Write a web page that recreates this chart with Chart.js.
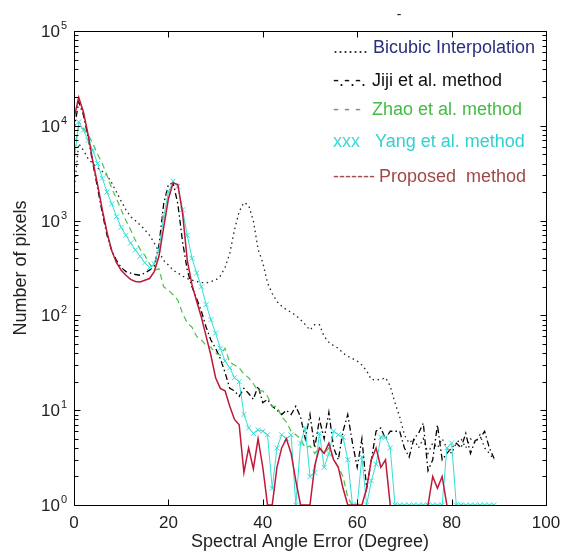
<!DOCTYPE html>
<html>
<head>
<meta charset="utf-8">
<script src="https://cdn.jsdelivr.net/npm/chart.js@4.4.1/dist/chart.umd.min.js"></script>
<style>
body { margin: 0; background: #fff; }
</style>
</head>
<body>
<canvas id="myChart" width="563" height="557"></canvas>
<script>
// spectral angle (degree)
var angles = [0, 1, 2, 3, 4, 5, 6, 7, 8, 9, 10, 11, 12, 13, 14, 15, 16, 17, 18, 19,
    20, 21, 22, 23, 24, 25, 26, 27, 28, 29, 30, 31, 32, 33, 34, 35, 36, 37, 38, 39,
    40, 41, 42, 43, 44, 45, 46, 47, 48, 49, 50, 51, 52, 53, 54, 55, 56, 57, 58, 59,
    60, 61, 62, 63, 64, 65, 66, 67, 68, 69, 70, 71, 72, 73, 74, 75, 76, 77, 78, 79,
    80, 81, 82, 83, 84, 85, 86, 87, 88, 89, 90]

var bicubic = [2000, 6500, 5500, 4500, 4000, 3600, 3300, 3000, 2500, 2000,
    1600, 1300, 1100, 1000, 900, 800, 700, 580, 470, 380,
    340, 300, 280, 260, 245, 235, 228, 222, 220, 228,
    235, 260, 320, 450, 800, 1250, 1550, 1450, 1000, 500,
    360, 220, 170, 140, 125, 115, 108, 100, 90, 80,
    70, 80, 80, 60, 52, 48, 45, 40, 37, 35,
    33, 30, 26, 21, 21, 21, 22, 18, 12, 8.5,
    5.5, 4.5, 5, 4, 5, 3.5, 4.5, 4, 5, 4,
    3.5, 4.5, 5, 4, 5, 4.5, 5.5, 4, 3.5, 3, null]

var jiji = [9000, 18000, 13000, 7500, 4000, 2200, 1200, 700, 480, 380,
    320, 290, 280, 270, 265, 280, 300, 330, 550, 1500,
    2400, 2500, 1500, 600, 300, 200, 150, 110, 75, 55,
    45, 35, 25, 17, 16, 14, 17, 15, 13, 18,
    12, 13, 11, 10, 9, 10, 9, 11, 8.5, 5,
    9, 4, 8, 5, 9.5, 4, 3, 6, 9, 4.5,
    2.5, 5, 1.5, 3, 6, 6.5, 5, 6, 6, 6,
    4, 3.2, 5, 5.7, 7.3, 2.3, 3, 7, 3, 3.5,
    4, 4.5, 4, 5.7, 3.5, 4.8, 5, 6, 4, 3.1, null]

var zhao = [5500, 10000, 9500, 8000, 6500, 5000, 4000, 3000, 2200, 1700,
    1300, 1000, 800, 620, 500, 430, 350, 300, 310, 200,
    185, 165, 145, 105, 83, 75, 60, 55, 48, 46,
    40, 38, 45, 32, 30, 28, 24, 22, 19, 16,
    16, 14, 11, 11, 8.5, 7.5, 6, 5.5, 5, 4,
    4.2, 3.5, 4, 3.5, 4, 3, 2.5, 2, 1.2, 1,
    null, null, null, null, null, null, null, null, null, null,
    null, null, null, null, null, null, null, null, null, null,
    null, null, null, null, null, null, null, null, null, null, null]

var yang = [4000, 11000, 9000, 7000, 5500, 4000, 2800, 2000, 1500, 1100,
    850, 700, 580, 490, 420, 360, 320, 350, 500, 1100,
    2000, 2600, 2300, 1300, 700, 400, 280, 200, 130, 90,
    65, 45, 33, 28, 22, 20, 9, 6.5, 5.7, 6.2,
    6, 5.5, 1.5, 4, 5.5, 5, 5.5, 1, 4.5, 6.5,
    2, 2.2, 5.7, 2.5, 3.5, 6, 5.5, 5.2, 3, 1,
    1, 3.2, 1, 1.8, 2.7, 5.2, 5.2, 4, 1, 1,
    1, 1, 1, 1, 1, 1, 1, 1, 1, 4,
    4.5, 1, 1, 1, 1, 1, 1, 1, 1, 1, null]

var proposed = [12000, 20000, 14000, 8000, 4200, 2400, 1300, 750, 480, 360,
    300, 265, 240, 228, 225, 235, 245, 290, 420, 850,
    1700, 2500, 2400, 1200, 380, 210, 140, 95, 60, 38,
    22, 17, 16, 11, 8, 7, 2.2, 4, 2.4, 5,
    2.5, 1, 1, 2.5, 4, 5, 3.5, 1.8, 1, 1,
    1, 2.6, 4, 3.5, 4.5, 3, 2.5, 1.5, 1, 1,
    1, 1, 1.5, 3, 4, 2.5, 3, 1, null, null,
    null, null, null, null, null, 1, 2, 1.5, 2, 1,
    null, null, null, null, null, null, null, null, null, null, null]

var xTicks = [0, 20, 40, 60, 80, 100]
var yExponents = [0, 1, 2, 3, 4, 5]

var legendSamples = ['.......', '-.-.-.', '- - -', 'xxx', '-------']
var legendNames = ['Bicubic Interpolation', 'Jiji et al. method', 'Zhao et al. method', 'Yang et al. method', 'Proposed  method']

var FONT = '"Liberation Sans", Arial, sans-serif'

function toPoints(arr) {
    return angles.map(function (a, i) { return { x: a, y: arr[i] } })
}

var matlabAxes = {
    id: 'matlabAxes',
    beforeDraw: function (chart) {
        var ctx = chart.ctx
        ctx.save()
        ctx.fillStyle = '#fff'
        ctx.fillRect(0, 0, chart.width, chart.height)
        ctx.restore()
    },
    afterDraw: function (chart) {
        var ctx = chart.ctx, a = chart.chartArea
        var xs = chart.scales.x, ys = chart.scales.y
        var L = Math.round(a.left) + 0.5, R = Math.round(a.right) + 0.5
        var T = Math.round(a.top) + 0.5, B = Math.round(a.bottom) + 0.5
        ctx.save()
        ctx.strokeStyle = '#000'
        ctx.lineWidth = 1
        ctx.beginPath()
        ctx.rect(L, T, R - L, B - T)
        // x ticks, bottom and top, pointing inwards
        xTicks.forEach(function (v) {
            var px = Math.round(xs.getPixelForValue(v)) + 0.5
            ctx.moveTo(px, B); ctx.lineTo(px, B - 6)
            ctx.moveTo(px, T); ctx.lineTo(px, T + 6)
        })
        // y ticks, decades and minor
        yExponents.forEach(function (e) {
            for (var k = 1; k <= 9; k++) {
                var v = k * Math.pow(10, e)
                if (v > ys.max) break
                var py = Math.round(ys.getPixelForValue(v)) + 0.5
                var len = k === 1 ? 6 : 4
                ctx.moveTo(L, py); ctx.lineTo(L + len, py)
                ctx.moveTo(R, py); ctx.lineTo(R - len, py)
            }
        })
        ctx.stroke()

        // tick labels
        ctx.fillStyle = '#222'
        ctx.font = '17px ' + FONT
        ctx.textAlign = 'center'
        ctx.textBaseline = 'alphabetic'
        xTicks.forEach(function (v) {
            ctx.fillText(String(v), xs.getPixelForValue(v), 528)
        })
        yExponents.forEach(function (e) {
            var py = ys.getPixelForValue(Math.pow(10, e))
            ctx.font = '17px ' + FONT
            ctx.textAlign = 'right'
            ctx.fillText('10', 60, py + 6)
            ctx.font = '11px ' + FONT
            ctx.textAlign = 'left'
            ctx.fillText(String(e), 61, py - 2)
        })

        // axis titles
        ctx.font = '18px ' + FONT
        ctx.textAlign = 'center'
        ctx.fillText('Spectral Angle Error (Degree)', (a.left + a.right) / 2, 547)
        ctx.save()
        ctx.translate(26, (a.top + a.bottom) / 2)
        ctx.rotate(-Math.PI / 2)
        ctx.fillText('Number of pixels', 0, 0)
        ctx.restore()

        // small title mark
        ctx.font = '14px ' + FONT
        ctx.fillText('-', 399, 19)

        // legend written as text like the original figure
        var sampleColors = ['#333', '#111', '#888', '#3fd8d8', '#a05050']
        var nameColors = ['#2c2c7c', '#111', '#44bb44', '#33d0d0', '#a04848']
        var nameX = [373, 372, 372, 375, 379]
        var baseY = [53, 86, 115, 147, 182]
        ctx.font = '18px ' + FONT
        ctx.textAlign = 'left'
        for (var i = 0; i < legendNames.length; i++) {
            ctx.fillStyle = sampleColors[i]
            ctx.fillText(legendSamples[i], 333, baseY[i])
            ctx.fillStyle = nameColors[i]
            ctx.fillText(legendNames[i], nameX[i], baseY[i])
        }
        ctx.restore()
    }
}

var ctx = document.getElementById('myChart').getContext('2d')
new Chart(ctx, {
    type: 'line',
    data: {
        datasets: [{
            label: 'Proposed method',
            data: toPoints(proposed),
            borderColor: '#c01838',
            borderWidth: 1.5,
            pointRadius: 0
        }, {
            label: 'Yang et al. method',
            data: toPoints(yang),
            borderColor: '#33dfd6',
            borderWidth: 1,
            pointStyle: 'crossRot',
            pointRadius: 3.5,
            pointBorderWidth: 1,
            pointBorderColor: '#33dfd6'
        }, {
            label: 'Zhao et al. method',
            data: toPoints(zhao),
            borderColor: '#4cc24c',
            borderWidth: 1.2,
            borderDash: [6, 4],
            pointRadius: 0
        }, {
            label: 'Jiji et al. method',
            data: toPoints(jiji),
            borderColor: '#000',
            borderWidth: 1.3,
            borderDash: [6, 3, 1.5, 3],
            pointRadius: 0
        }, {
            label: 'Bicubic Interpolation',
            data: toPoints(bicubic),
            borderColor: '#222',
            borderWidth: 1.3,
            borderDash: [1.5, 3.5],
            pointRadius: 0
        }]
    },
    options: {
        responsive: false,
        animation: false,
        spanGaps: false,
        layout: { padding: { top: 31, right: 17, bottom: 0, left: 0 } },
        plugins: {
            legend: { display: false },
            tooltip: { enabled: false }
        },
        elements: { line: { tension: 0 } },
        scales: {
            x: {
                type: 'linear',
                min: 0,
                max: 100,
                grid: { display: false },
                border: { display: false },
                ticks: { display: false },
                afterFit: function (s) { s.height = 52 }
            },
            y: {
                type: 'logarithmic',
                min: 1,
                max: 100000,
                grid: { display: false },
                border: { display: false },
                ticks: { display: false },
                afterFit: function (s) { s.width = 74 }
            }
        }
    },
    plugins: [matlabAxes]
})
</script>
</body>
</html>
